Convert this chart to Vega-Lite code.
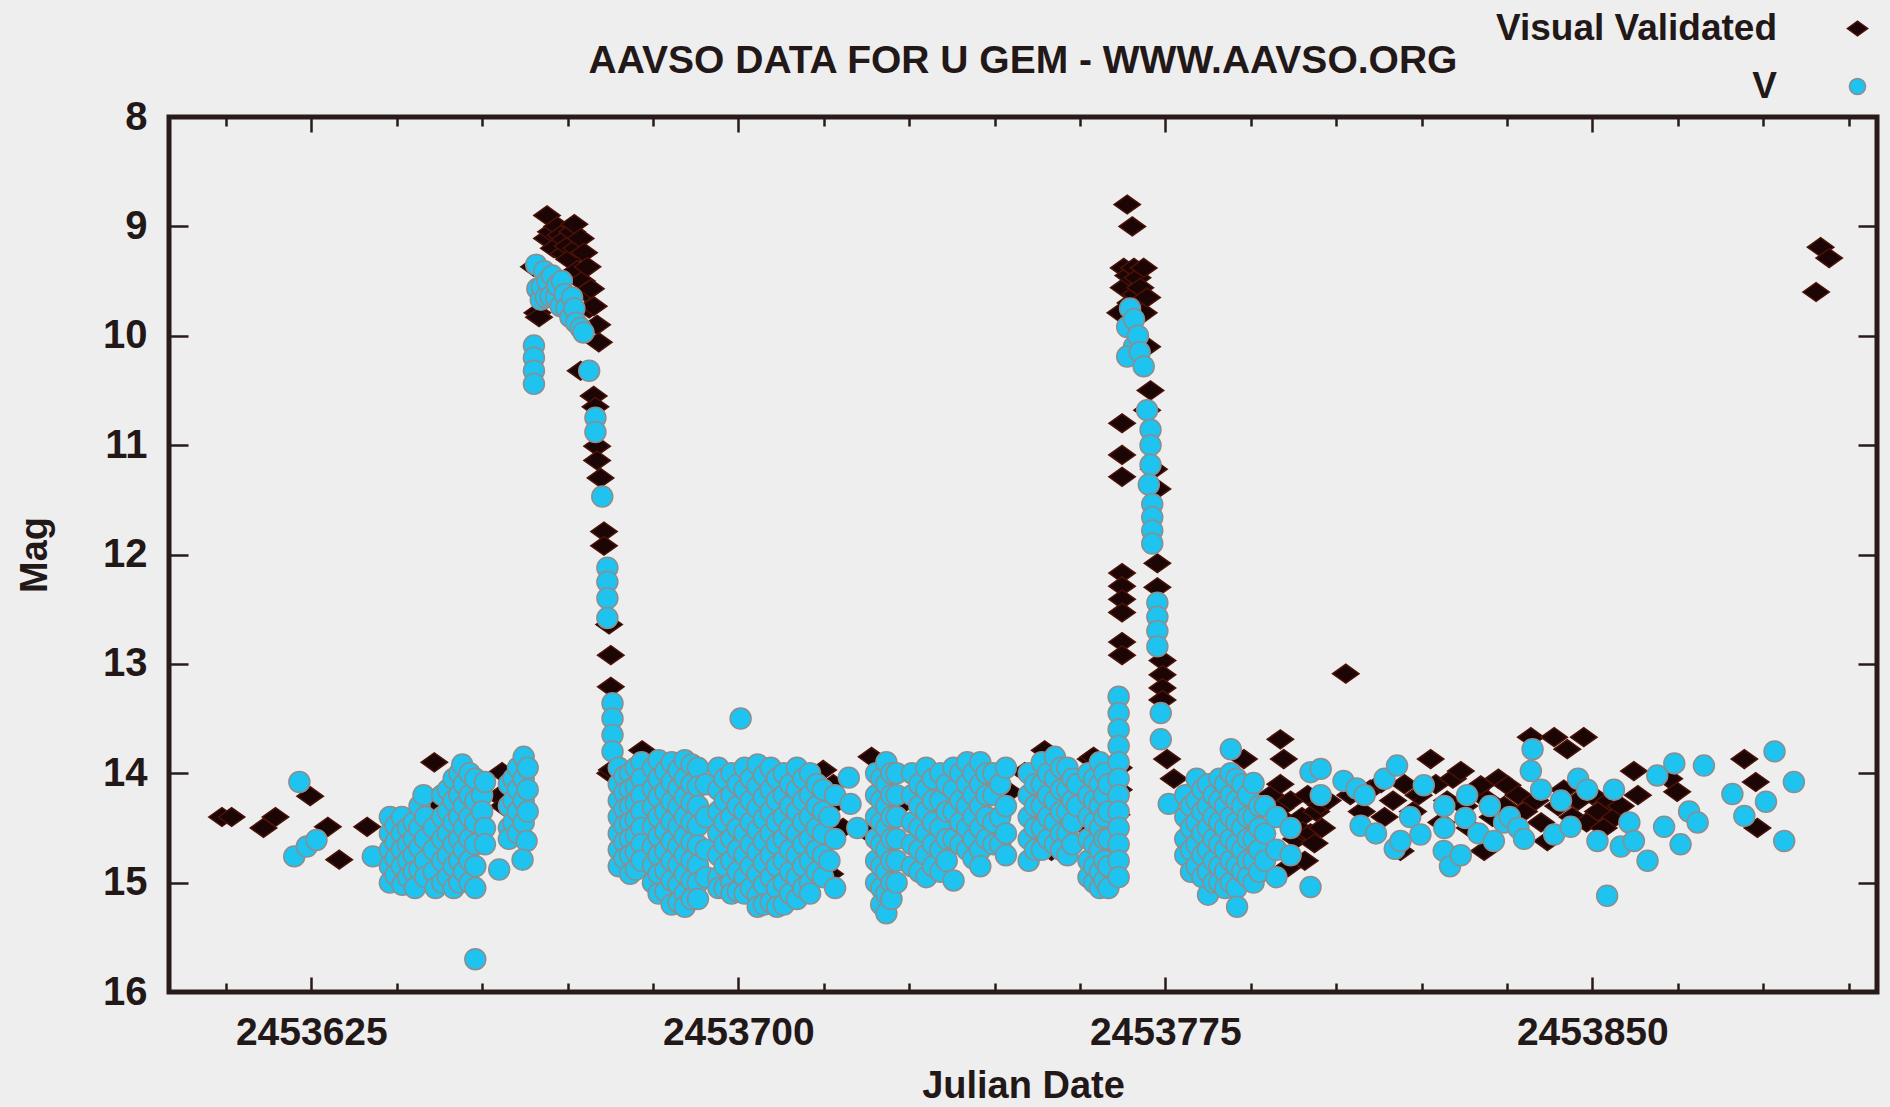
{
  "$schema": "https://vega.github.io/schema/vega-lite/v6.json",
  "width": 1708,
  "height": 875,
  "autosize": {"type": "none"},
  "padding": {"left": 169, "top": 117, "right": 13, "bottom": 115},
  "background": "#eeeeee",
  "config": {
    "view": {"stroke": "#2a1b1b", "strokeWidth": 5},
    "font": "Liberation Sans",
    "axis": {"grid": false, "domain": false, "labelFlush": false, "labelOverlap": false, "labelBound": false, "tickColor": "#2a1b1b", "tickWidth": 2.5, "labelColor": "#231818", "titleColor": "#231818", "labelFont": "Liberation Sans", "titleFont": "Liberation Sans", "labelFontWeight": "bold", "titleFontWeight": "bold"}
  },
  "title": {"text": "AAVSO DATA FOR U GEM - WWW.AAVSO.ORG", "font": "Liberation Sans", "fontSize": 39, "fontWeight": "bold", "color": "#231818", "anchor": "middle", "offset": 0, "dy": 71},
  "datasets": {
    "none": [],
    "pts": [
{"jd":2453609.3,"mag":14.40,"s":"Visual Validated"},
{"jd":2453611.0,"mag":14.40,"s":"Visual Validated"},
{"jd":2453616.6,"mag":14.50,"s":"Visual Validated"},
{"jd":2453618.7,"mag":14.40,"s":"Visual Validated"},
{"jd":2453624.8,"mag":14.21,"s":"Visual Validated"},
{"jd":2453627.9,"mag":14.49,"s":"Visual Validated"},
{"jd":2453629.9,"mag":14.79,"s":"Visual Validated"},
{"jd":2453634.8,"mag":14.49,"s":"Visual Validated"},
{"jd":2453645.9,"mag":14.31,"s":"Visual Validated"},
{"jd":2453646.6,"mag":13.90,"s":"Visual Validated"},
{"jd":2453647.9,"mag":14.18,"s":"Visual Validated"},
{"jd":2453652.7,"mag":14.31,"s":"Visual Validated"},
{"jd":2453658.5,"mag":13.99,"s":"Visual Validated"},
{"jd":2453658.0,"mag":14.21,"s":"Visual Validated"},
{"jd":2453658.8,"mag":14.30,"s":"Visual Validated"},
{"jd":2453664.1,"mag":9.37,"s":"Visual Validated"},
{"jd":2453664.7,"mag":9.79,"s":"Visual Validated"},
{"jd":2453665.0,"mag":9.83,"s":"Visual Validated"},
{"jd":2453666.4,"mag":8.90,"s":"Visual Validated"},
{"jd":2453666.4,"mag":9.11,"s":"Visual Validated"},
{"jd":2453667.1,"mag":9.05,"s":"Visual Validated"},
{"jd":2453667.6,"mag":9.20,"s":"Visual Validated"},
{"jd":2453668.2,"mag":9.00,"s":"Visual Validated"},
{"jd":2453668.8,"mag":9.08,"s":"Visual Validated"},
{"jd":2453669.3,"mag":9.25,"s":"Visual Validated"},
{"jd":2453669.5,"mag":9.12,"s":"Visual Validated"},
{"jd":2453670.0,"mag":9.18,"s":"Visual Validated"},
{"jd":2453670.3,"mag":9.30,"s":"Visual Validated"},
{"jd":2453670.8,"mag":9.05,"s":"Visual Validated"},
{"jd":2453671.2,"mag":8.98,"s":"Visual Validated"},
{"jd":2453671.5,"mag":9.20,"s":"Visual Validated"},
{"jd":2453671.7,"mag":9.40,"s":"Visual Validated"},
{"jd":2453672.3,"mag":9.11,"s":"Visual Validated"},
{"jd":2453672.5,"mag":9.50,"s":"Visual Validated"},
{"jd":2453672.9,"mag":9.24,"s":"Visual Validated"},
{"jd":2453673.2,"mag":9.60,"s":"Visual Validated"},
{"jd":2453673.5,"mag":9.37,"s":"Visual Validated"},
{"jd":2453673.8,"mag":9.75,"s":"Visual Validated"},
{"jd":2453674.1,"mag":9.57,"s":"Visual Validated"},
{"jd":2453674.6,"mag":9.73,"s":"Visual Validated"},
{"jd":2453675.2,"mag":9.90,"s":"Visual Validated"},
{"jd":2453675.5,"mag":10.06,"s":"Visual Validated"},
{"jd":2453672.3,"mag":10.32,"s":"Visual Validated"},
{"jd":2453674.6,"mag":10.55,"s":"Visual Validated"},
{"jd":2453674.9,"mag":10.65,"s":"Visual Validated"},
{"jd":2453675.2,"mag":11.01,"s":"Visual Validated"},
{"jd":2453675.2,"mag":11.14,"s":"Visual Validated"},
{"jd":2453675.8,"mag":11.30,"s":"Visual Validated"},
{"jd":2453676.4,"mag":11.79,"s":"Visual Validated"},
{"jd":2453676.4,"mag":11.92,"s":"Visual Validated"},
{"jd":2453677.3,"mag":12.64,"s":"Visual Validated"},
{"jd":2453677.6,"mag":12.92,"s":"Visual Validated"},
{"jd":2453677.6,"mag":13.21,"s":"Visual Validated"},
{"jd":2453677.5,"mag":14.00,"s":"Visual Validated"},
{"jd":2453677.8,"mag":13.97,"s":"Visual Validated"},
{"jd":2453683.1,"mag":13.79,"s":"Visual Validated"},
{"jd":2453684.7,"mag":14.10,"s":"Visual Validated"},
{"jd":2453684.7,"mag":14.30,"s":"Visual Validated"},
{"jd":2453698.6,"mag":14.14,"s":"Visual Validated"},
{"jd":2453709.9,"mag":14.44,"s":"Visual Validated"},
{"jd":2453714.9,"mag":13.97,"s":"Visual Validated"},
{"jd":2453716.7,"mag":14.10,"s":"Visual Validated"},
{"jd":2453716.1,"mag":14.31,"s":"Visual Validated"},
{"jd":2453716.1,"mag":14.47,"s":"Visual Validated"},
{"jd":2453716.1,"mag":14.92,"s":"Visual Validated"},
{"jd":2453718.4,"mag":14.50,"s":"Visual Validated"},
{"jd":2453722.5,"mag":14.53,"s":"Visual Validated"},
{"jd":2453723.4,"mag":13.85,"s":"Visual Validated"},
{"jd":2453728.6,"mag":14.29,"s":"Visual Validated"},
{"jd":2453731.6,"mag":14.20,"s":"Visual Validated"},
{"jd":2453735.1,"mag":14.30,"s":"Visual Validated"},
{"jd":2453736.9,"mag":14.08,"s":"Visual Validated"},
{"jd":2453739.5,"mag":14.20,"s":"Visual Validated"},
{"jd":2453747.6,"mag":14.17,"s":"Visual Validated"},
{"jd":2453750.3,"mag":13.99,"s":"Visual Validated"},
{"jd":2453753.8,"mag":13.79,"s":"Visual Validated"},
{"jd":2453755.0,"mag":14.71,"s":"Visual Validated"},
{"jd":2453755.3,"mag":14.30,"s":"Visual Validated"},
{"jd":2453760.2,"mag":14.15,"s":"Visual Validated"},
{"jd":2453760.5,"mag":14.47,"s":"Visual Validated"},
{"jd":2453761.9,"mag":13.87,"s":"Visual Validated"},
{"jd":2453762.4,"mag":13.85,"s":"Visual Validated"},
{"jd":2453763.5,"mag":14.20,"s":"Visual Validated"},
{"jd":2453766.4,"mag":14.38,"s":"Visual Validated"},
{"jd":2453766.8,"mag":13.95,"s":"Visual Validated"},
{"jd":2453766.8,"mag":14.15,"s":"Visual Validated"},
{"jd":2453767.1,"mag":9.79,"s":"Visual Validated"},
{"jd":2453767.4,"mag":10.80,"s":"Visual Validated"},
{"jd":2453767.4,"mag":11.09,"s":"Visual Validated"},
{"jd":2453767.4,"mag":11.29,"s":"Visual Validated"},
{"jd":2453767.4,"mag":12.17,"s":"Visual Validated"},
{"jd":2453767.4,"mag":12.29,"s":"Visual Validated"},
{"jd":2453767.4,"mag":12.41,"s":"Visual Validated"},
{"jd":2453767.4,"mag":12.53,"s":"Visual Validated"},
{"jd":2453767.4,"mag":12.80,"s":"Visual Validated"},
{"jd":2453767.4,"mag":12.92,"s":"Visual Validated"},
{"jd":2453767.7,"mag":9.38,"s":"Visual Validated"},
{"jd":2453767.7,"mag":9.56,"s":"Visual Validated"},
{"jd":2453768.3,"mag":8.80,"s":"Visual Validated"},
{"jd":2453768.5,"mag":9.45,"s":"Visual Validated"},
{"jd":2453768.9,"mag":9.70,"s":"Visual Validated"},
{"jd":2453769.2,"mag":9.00,"s":"Visual Validated"},
{"jd":2453769.5,"mag":9.38,"s":"Visual Validated"},
{"jd":2453769.8,"mag":9.62,"s":"Visual Validated"},
{"jd":2453770.1,"mag":9.47,"s":"Visual Validated"},
{"jd":2453770.6,"mag":9.56,"s":"Visual Validated"},
{"jd":2453771.2,"mag":9.38,"s":"Visual Validated"},
{"jd":2453771.2,"mag":9.79,"s":"Visual Validated"},
{"jd":2453771.8,"mag":9.65,"s":"Visual Validated"},
{"jd":2453771.8,"mag":10.10,"s":"Visual Validated"},
{"jd":2453772.4,"mag":10.50,"s":"Visual Validated"},
{"jd":2453771.8,"mag":10.68,"s":"Visual Validated"},
{"jd":2453773.0,"mag":11.22,"s":"Visual Validated"},
{"jd":2453773.6,"mag":11.40,"s":"Visual Validated"},
{"jd":2453773.6,"mag":12.08,"s":"Visual Validated"},
{"jd":2453773.6,"mag":12.30,"s":"Visual Validated"},
{"jd":2453774.5,"mag":12.97,"s":"Visual Validated"},
{"jd":2453774.5,"mag":13.10,"s":"Visual Validated"},
{"jd":2453774.5,"mag":13.22,"s":"Visual Validated"},
{"jd":2453774.5,"mag":13.33,"s":"Visual Validated"},
{"jd":2453775.3,"mag":13.87,"s":"Visual Validated"},
{"jd":2453776.5,"mag":14.05,"s":"Visual Validated"},
{"jd":2453785.3,"mag":14.10,"s":"Visual Validated"},
{"jd":2453788.8,"mag":13.87,"s":"Visual Validated"},
{"jd":2453790.6,"mag":14.30,"s":"Visual Validated"},
{"jd":2453791.0,"mag":14.95,"s":"Visual Validated"},
{"jd":2453792.0,"mag":14.55,"s":"Visual Validated"},
{"jd":2453793.5,"mag":14.20,"s":"Visual Validated"},
{"jd":2453794.0,"mag":14.70,"s":"Visual Validated"},
{"jd":2453795.2,"mag":13.69,"s":"Visual Validated"},
{"jd":2453795.8,"mag":13.87,"s":"Visual Validated"},
{"jd":2453795.2,"mag":14.10,"s":"Visual Validated"},
{"jd":2453795.2,"mag":14.32,"s":"Visual Validated"},
{"jd":2453796.5,"mag":14.45,"s":"Visual Validated"},
{"jd":2453796.5,"mag":14.86,"s":"Visual Validated"},
{"jd":2453797.0,"mag":14.25,"s":"Visual Validated"},
{"jd":2453798.0,"mag":14.60,"s":"Visual Validated"},
{"jd":2453799.0,"mag":14.40,"s":"Visual Validated"},
{"jd":2453799.1,"mag":14.53,"s":"Visual Validated"},
{"jd":2453799.5,"mag":14.80,"s":"Visual Validated"},
{"jd":2453800.0,"mag":14.20,"s":"Visual Validated"},
{"jd":2453800.5,"mag":14.55,"s":"Visual Validated"},
{"jd":2453801.2,"mag":14.64,"s":"Visual Validated"},
{"jd":2453801.5,"mag":14.35,"s":"Visual Validated"},
{"jd":2453802.3,"mag":14.29,"s":"Visual Validated"},
{"jd":2453802.5,"mag":14.50,"s":"Visual Validated"},
{"jd":2453803.5,"mag":14.25,"s":"Visual Validated"},
{"jd":2453806.7,"mag":13.09,"s":"Visual Validated"},
{"jd":2453807.5,"mag":14.20,"s":"Visual Validated"},
{"jd":2453809.5,"mag":14.35,"s":"Visual Validated"},
{"jd":2453811.0,"mag":14.15,"s":"Visual Validated"},
{"jd":2453812.9,"mag":14.09,"s":"Visual Validated"},
{"jd":2453813.5,"mag":14.40,"s":"Visual Validated"},
{"jd":2453815.0,"mag":14.25,"s":"Visual Validated"},
{"jd":2453816.3,"mag":14.71,"s":"Visual Validated"},
{"jd":2453817.0,"mag":14.10,"s":"Visual Validated"},
{"jd":2453818.5,"mag":14.35,"s":"Visual Validated"},
{"jd":2453819.5,"mag":14.20,"s":"Visual Validated"},
{"jd":2453821.6,"mag":13.87,"s":"Visual Validated"},
{"jd":2453822.5,"mag":14.10,"s":"Visual Validated"},
{"jd":2453823.5,"mag":14.45,"s":"Visual Validated"},
{"jd":2453824.5,"mag":14.25,"s":"Visual Validated"},
{"jd":2453825.5,"mag":14.05,"s":"Visual Validated"},
{"jd":2453826.9,"mag":13.98,"s":"Visual Validated"},
{"jd":2453827.5,"mag":14.30,"s":"Visual Validated"},
{"jd":2453828.5,"mag":14.50,"s":"Visual Validated"},
{"jd":2453829.5,"mag":14.15,"s":"Visual Validated"},
{"jd":2453830.4,"mag":14.11,"s":"Visual Validated"},
{"jd":2453831.0,"mag":14.71,"s":"Visual Validated"},
{"jd":2453831.5,"mag":14.24,"s":"Visual Validated"},
{"jd":2453832.5,"mag":14.40,"s":"Visual Validated"},
{"jd":2453833.5,"mag":14.05,"s":"Visual Validated"},
{"jd":2453834.5,"mag":14.30,"s":"Visual Validated"},
{"jd":2453835.1,"mag":14.11,"s":"Visual Validated"},
{"jd":2453836.0,"mag":14.45,"s":"Visual Validated"},
{"jd":2453837.0,"mag":14.20,"s":"Visual Validated"},
{"jd":2453838.0,"mag":14.35,"s":"Visual Validated"},
{"jd":2453839.2,"mag":13.67,"s":"Visual Validated"},
{"jd":2453840.0,"mag":14.25,"s":"Visual Validated"},
{"jd":2453841.0,"mag":14.45,"s":"Visual Validated"},
{"jd":2453842.1,"mag":14.62,"s":"Visual Validated"},
{"jd":2453843.3,"mag":13.67,"s":"Visual Validated"},
{"jd":2453844.0,"mag":14.30,"s":"Visual Validated"},
{"jd":2453845.0,"mag":14.15,"s":"Visual Validated"},
{"jd":2453845.6,"mag":13.78,"s":"Visual Validated"},
{"jd":2453846.5,"mag":14.40,"s":"Visual Validated"},
{"jd":2453847.5,"mag":14.25,"s":"Visual Validated"},
{"jd":2453848.5,"mag":13.67,"s":"Visual Validated"},
{"jd":2453849.0,"mag":14.45,"s":"Visual Validated"},
{"jd":2453850.0,"mag":14.20,"s":"Visual Validated"},
{"jd":2453851.0,"mag":14.35,"s":"Visual Validated"},
{"jd":2453852.0,"mag":14.50,"s":"Visual Validated"},
{"jd":2453853.0,"mag":14.25,"s":"Visual Validated"},
{"jd":2453854.0,"mag":14.40,"s":"Visual Validated"},
{"jd":2453855.0,"mag":14.30,"s":"Visual Validated"},
{"jd":2453857.3,"mag":13.98,"s":"Visual Validated"},
{"jd":2453858.0,"mag":14.20,"s":"Visual Validated"},
{"jd":2453863.5,"mag":14.05,"s":"Visual Validated"},
{"jd":2453864.9,"mag":14.17,"s":"Visual Validated"},
{"jd":2453876.7,"mag":13.87,"s":"Visual Validated"},
{"jd":2453878.7,"mag":14.08,"s":"Visual Validated"},
{"jd":2453879.0,"mag":14.50,"s":"Visual Validated"},
{"jd":2453889.3,"mag":9.60,"s":"Visual Validated"},
{"jd":2453890.1,"mag":9.19,"s":"Visual Validated"},
{"jd":2453891.6,"mag":9.29,"s":"Visual Validated"},
{"jd":2453622.0,"mag":14.76,"s":"V"},
{"jd":2453622.9,"mag":14.08,"s":"V"},
{"jd":2453624.2,"mag":14.67,"s":"V"},
{"jd":2453625.9,"mag":14.61,"s":"V"},
{"jd":2453635.8,"mag":14.76,"s":"V"},
{"jd":2453638.8,"mag":14.40,"s":"V"},
{"jd":2453638.8,"mag":14.55,"s":"V"},
{"jd":2453638.8,"mag":14.70,"s":"V"},
{"jd":2453638.8,"mag":14.85,"s":"V"},
{"jd":2453638.8,"mag":15.00,"s":"V"},
{"jd":2453639.8,"mag":14.48,"s":"V"},
{"jd":2453639.8,"mag":14.63,"s":"V"},
{"jd":2453639.8,"mag":14.78,"s":"V"},
{"jd":2453639.8,"mag":14.93,"s":"V"},
{"jd":2453640.9,"mag":14.40,"s":"V"},
{"jd":2453640.9,"mag":14.55,"s":"V"},
{"jd":2453640.9,"mag":14.70,"s":"V"},
{"jd":2453640.9,"mag":14.85,"s":"V"},
{"jd":2453641.0,"mag":15.02,"s":"V"},
{"jd":2453642.0,"mag":14.50,"s":"V"},
{"jd":2453642.0,"mag":14.65,"s":"V"},
{"jd":2453642.0,"mag":14.80,"s":"V"},
{"jd":2453642.0,"mag":14.95,"s":"V"},
{"jd":2453643.0,"mag":14.45,"s":"V"},
{"jd":2453643.0,"mag":14.60,"s":"V"},
{"jd":2453643.0,"mag":14.75,"s":"V"},
{"jd":2453643.0,"mag":14.90,"s":"V"},
{"jd":2453643.2,"mag":15.05,"s":"V"},
{"jd":2453644.0,"mag":14.30,"s":"V"},
{"jd":2453644.0,"mag":14.50,"s":"V"},
{"jd":2453644.0,"mag":14.68,"s":"V"},
{"jd":2453644.0,"mag":14.88,"s":"V"},
{"jd":2453644.7,"mag":14.20,"s":"V"},
{"jd":2453645.0,"mag":14.40,"s":"V"},
{"jd":2453645.0,"mag":14.60,"s":"V"},
{"jd":2453645.0,"mag":14.80,"s":"V"},
{"jd":2453645.0,"mag":14.95,"s":"V"},
{"jd":2453646.5,"mag":14.50,"s":"V"},
{"jd":2453646.5,"mag":14.70,"s":"V"},
{"jd":2453646.5,"mag":14.90,"s":"V"},
{"jd":2453646.8,"mag":15.05,"s":"V"},
{"jd":2453648.0,"mag":14.20,"s":"V"},
{"jd":2453648.0,"mag":14.40,"s":"V"},
{"jd":2453648.0,"mag":14.60,"s":"V"},
{"jd":2453648.0,"mag":14.80,"s":"V"},
{"jd":2453648.0,"mag":15.00,"s":"V"},
{"jd":2453649.0,"mag":14.15,"s":"V"},
{"jd":2453649.0,"mag":14.35,"s":"V"},
{"jd":2453649.0,"mag":14.55,"s":"V"},
{"jd":2453649.0,"mag":14.75,"s":"V"},
{"jd":2453649.0,"mag":14.95,"s":"V"},
{"jd":2453650.0,"mag":14.05,"s":"V"},
{"jd":2453650.0,"mag":14.25,"s":"V"},
{"jd":2453650.0,"mag":14.45,"s":"V"},
{"jd":2453650.0,"mag":14.65,"s":"V"},
{"jd":2453650.0,"mag":14.85,"s":"V"},
{"jd":2453650.0,"mag":15.05,"s":"V"},
{"jd":2453651.0,"mag":14.00,"s":"V"},
{"jd":2453651.0,"mag":14.20,"s":"V"},
{"jd":2453651.0,"mag":14.40,"s":"V"},
{"jd":2453651.0,"mag":14.60,"s":"V"},
{"jd":2453651.0,"mag":14.80,"s":"V"},
{"jd":2453651.0,"mag":15.00,"s":"V"},
{"jd":2453651.5,"mag":13.92,"s":"V"},
{"jd":2453651.8,"mag":14.10,"s":"V"},
{"jd":2453651.8,"mag":14.30,"s":"V"},
{"jd":2453651.8,"mag":14.50,"s":"V"},
{"jd":2453651.8,"mag":14.70,"s":"V"},
{"jd":2453651.8,"mag":14.90,"s":"V"},
{"jd":2453652.8,"mag":14.00,"s":"V"},
{"jd":2453652.8,"mag":14.20,"s":"V"},
{"jd":2453652.8,"mag":14.40,"s":"V"},
{"jd":2453652.8,"mag":14.60,"s":"V"},
{"jd":2453652.8,"mag":14.80,"s":"V"},
{"jd":2453652.8,"mag":15.00,"s":"V"},
{"jd":2453653.8,"mag":14.05,"s":"V"},
{"jd":2453653.8,"mag":14.25,"s":"V"},
{"jd":2453653.8,"mag":14.45,"s":"V"},
{"jd":2453653.8,"mag":14.65,"s":"V"},
{"jd":2453653.8,"mag":14.85,"s":"V"},
{"jd":2453653.8,"mag":15.05,"s":"V"},
{"jd":2453653.8,"mag":15.70,"s":"V"},
{"jd":2453655.0,"mag":14.20,"s":"V"},
{"jd":2453655.0,"mag":14.35,"s":"V"},
{"jd":2453655.5,"mag":14.08,"s":"V"},
{"jd":2453655.5,"mag":14.50,"s":"V"},
{"jd":2453655.5,"mag":14.65,"s":"V"},
{"jd":2453658.0,"mag":14.88,"s":"V"},
{"jd":2453659.7,"mag":14.10,"s":"V"},
{"jd":2453659.7,"mag":14.30,"s":"V"},
{"jd":2453659.7,"mag":14.50,"s":"V"},
{"jd":2453659.7,"mag":14.60,"s":"V"},
{"jd":2453660.5,"mag":14.05,"s":"V"},
{"jd":2453660.5,"mag":14.25,"s":"V"},
{"jd":2453660.5,"mag":14.45,"s":"V"},
{"jd":2453661.3,"mag":13.95,"s":"V"},
{"jd":2453661.3,"mag":14.15,"s":"V"},
{"jd":2453661.3,"mag":14.35,"s":"V"},
{"jd":2453661.3,"mag":14.55,"s":"V"},
{"jd":2453662.3,"mag":13.85,"s":"V"},
{"jd":2453662.3,"mag":14.05,"s":"V"},
{"jd":2453662.3,"mag":14.25,"s":"V"},
{"jd":2453662.3,"mag":14.45,"s":"V"},
{"jd":2453662.8,"mag":14.62,"s":"V"},
{"jd":2453662.1,"mag":14.79,"s":"V"},
{"jd":2453663.0,"mag":13.95,"s":"V"},
{"jd":2453663.0,"mag":14.15,"s":"V"},
{"jd":2453663.0,"mag":14.35,"s":"V"},
{"jd":2453664.1,"mag":10.09,"s":"V"},
{"jd":2453664.1,"mag":10.20,"s":"V"},
{"jd":2453664.1,"mag":10.32,"s":"V"},
{"jd":2453664.1,"mag":10.44,"s":"V"},
{"jd":2453664.5,"mag":9.35,"s":"V"},
{"jd":2453664.7,"mag":9.57,"s":"V"},
{"jd":2453665.3,"mag":9.67,"s":"V"},
{"jd":2453665.5,"mag":9.55,"s":"V"},
{"jd":2453665.9,"mag":9.41,"s":"V"},
{"jd":2453666.2,"mag":9.65,"s":"V"},
{"jd":2453666.5,"mag":9.50,"s":"V"},
{"jd":2453667.0,"mag":9.64,"s":"V"},
{"jd":2453667.3,"mag":9.45,"s":"V"},
{"jd":2453668.0,"mag":9.65,"s":"V"},
{"jd":2453668.2,"mag":9.54,"s":"V"},
{"jd":2453668.8,"mag":9.73,"s":"V"},
{"jd":2453669.0,"mag":9.50,"s":"V"},
{"jd":2453669.5,"mag":9.62,"s":"V"},
{"jd":2453669.8,"mag":9.75,"s":"V"},
{"jd":2453670.5,"mag":9.83,"s":"V"},
{"jd":2453670.8,"mag":9.65,"s":"V"},
{"jd":2453671.2,"mag":9.75,"s":"V"},
{"jd":2453671.5,"mag":9.88,"s":"V"},
{"jd":2453672.3,"mag":9.93,"s":"V"},
{"jd":2453672.8,"mag":9.97,"s":"V"},
{"jd":2453673.8,"mag":10.32,"s":"V"},
{"jd":2453674.9,"mag":10.75,"s":"V"},
{"jd":2453674.9,"mag":10.88,"s":"V"},
{"jd":2453676.1,"mag":11.47,"s":"V"},
{"jd":2453677.0,"mag":12.12,"s":"V"},
{"jd":2453677.0,"mag":12.25,"s":"V"},
{"jd":2453677.0,"mag":12.40,"s":"V"},
{"jd":2453677.0,"mag":12.58,"s":"V"},
{"jd":2453677.9,"mag":13.36,"s":"V"},
{"jd":2453677.9,"mag":13.50,"s":"V"},
{"jd":2453677.9,"mag":13.65,"s":"V"},
{"jd":2453677.9,"mag":13.80,"s":"V"},
{"jd":2453679.0,"mag":13.95,"s":"V"},
{"jd":2453679.0,"mag":14.10,"s":"V"},
{"jd":2453679.0,"mag":14.25,"s":"V"},
{"jd":2453679.0,"mag":14.40,"s":"V"},
{"jd":2453679.0,"mag":14.55,"s":"V"},
{"jd":2453679.0,"mag":14.70,"s":"V"},
{"jd":2453679.0,"mag":14.85,"s":"V"},
{"jd":2453680.0,"mag":14.03,"s":"V"},
{"jd":2453680.0,"mag":14.18,"s":"V"},
{"jd":2453680.0,"mag":14.33,"s":"V"},
{"jd":2453680.0,"mag":14.48,"s":"V"},
{"jd":2453680.0,"mag":14.63,"s":"V"},
{"jd":2453680.0,"mag":14.78,"s":"V"},
{"jd":2453681.0,"mag":14.00,"s":"V"},
{"jd":2453681.0,"mag":14.15,"s":"V"},
{"jd":2453681.0,"mag":14.30,"s":"V"},
{"jd":2453681.0,"mag":14.45,"s":"V"},
{"jd":2453681.0,"mag":14.60,"s":"V"},
{"jd":2453681.0,"mag":14.75,"s":"V"},
{"jd":2453681.0,"mag":14.92,"s":"V"},
{"jd":2453682.0,"mag":13.95,"s":"V"},
{"jd":2453682.0,"mag":14.12,"s":"V"},
{"jd":2453682.0,"mag":14.27,"s":"V"},
{"jd":2453682.0,"mag":14.42,"s":"V"},
{"jd":2453682.0,"mag":14.57,"s":"V"},
{"jd":2453682.0,"mag":14.72,"s":"V"},
{"jd":2453682.0,"mag":14.88,"s":"V"},
{"jd":2453683.0,"mag":13.90,"s":"V"},
{"jd":2453683.0,"mag":14.05,"s":"V"},
{"jd":2453683.0,"mag":14.20,"s":"V"},
{"jd":2453683.0,"mag":14.35,"s":"V"},
{"jd":2453683.0,"mag":14.50,"s":"V"},
{"jd":2453683.0,"mag":14.65,"s":"V"},
{"jd":2453683.0,"mag":14.80,"s":"V"},
{"jd":2453685.0,"mag":13.95,"s":"V"},
{"jd":2453685.0,"mag":14.14,"s":"V"},
{"jd":2453685.0,"mag":14.31,"s":"V"},
{"jd":2453685.0,"mag":14.49,"s":"V"},
{"jd":2453685.0,"mag":14.67,"s":"V"},
{"jd":2453685.0,"mag":14.84,"s":"V"},
{"jd":2453685.0,"mag":15.00,"s":"V"},
{"jd":2453686.0,"mag":13.88,"s":"V"},
{"jd":2453686.0,"mag":14.05,"s":"V"},
{"jd":2453686.0,"mag":14.22,"s":"V"},
{"jd":2453686.0,"mag":14.40,"s":"V"},
{"jd":2453686.0,"mag":14.58,"s":"V"},
{"jd":2453686.0,"mag":14.75,"s":"V"},
{"jd":2453686.0,"mag":14.92,"s":"V"},
{"jd":2453686.0,"mag":15.10,"s":"V"},
{"jd":2453687.2,"mag":13.98,"s":"V"},
{"jd":2453687.2,"mag":14.17,"s":"V"},
{"jd":2453687.2,"mag":14.35,"s":"V"},
{"jd":2453687.2,"mag":14.53,"s":"V"},
{"jd":2453687.2,"mag":14.71,"s":"V"},
{"jd":2453687.2,"mag":14.89,"s":"V"},
{"jd":2453687.2,"mag":15.08,"s":"V"},
{"jd":2453688.3,"mag":13.90,"s":"V"},
{"jd":2453688.3,"mag":14.08,"s":"V"},
{"jd":2453688.3,"mag":14.26,"s":"V"},
{"jd":2453688.3,"mag":14.44,"s":"V"},
{"jd":2453688.3,"mag":14.62,"s":"V"},
{"jd":2453688.3,"mag":14.80,"s":"V"},
{"jd":2453688.3,"mag":14.98,"s":"V"},
{"jd":2453688.3,"mag":15.20,"s":"V"},
{"jd":2453689.5,"mag":13.97,"s":"V"},
{"jd":2453689.5,"mag":14.14,"s":"V"},
{"jd":2453689.5,"mag":14.31,"s":"V"},
{"jd":2453689.5,"mag":14.49,"s":"V"},
{"jd":2453689.5,"mag":14.67,"s":"V"},
{"jd":2453689.5,"mag":14.84,"s":"V"},
{"jd":2453689.5,"mag":15.02,"s":"V"},
{"jd":2453689.5,"mag":15.18,"s":"V"},
{"jd":2453690.6,"mag":13.88,"s":"V"},
{"jd":2453690.6,"mag":14.05,"s":"V"},
{"jd":2453690.6,"mag":14.22,"s":"V"},
{"jd":2453690.6,"mag":14.40,"s":"V"},
{"jd":2453690.6,"mag":14.58,"s":"V"},
{"jd":2453690.6,"mag":14.75,"s":"V"},
{"jd":2453690.6,"mag":14.92,"s":"V"},
{"jd":2453690.6,"mag":15.10,"s":"V"},
{"jd":2453690.6,"mag":15.22,"s":"V"},
{"jd":2453691.8,"mag":13.92,"s":"V"},
{"jd":2453691.8,"mag":14.10,"s":"V"},
{"jd":2453691.8,"mag":14.27,"s":"V"},
{"jd":2453691.8,"mag":14.45,"s":"V"},
{"jd":2453691.8,"mag":14.63,"s":"V"},
{"jd":2453691.8,"mag":14.80,"s":"V"},
{"jd":2453691.8,"mag":14.98,"s":"V"},
{"jd":2453691.8,"mag":15.15,"s":"V"},
{"jd":2453692.9,"mag":13.95,"s":"V"},
{"jd":2453692.9,"mag":14.12,"s":"V"},
{"jd":2453692.9,"mag":14.30,"s":"V"},
{"jd":2453692.9,"mag":14.48,"s":"V"},
{"jd":2453692.9,"mag":14.66,"s":"V"},
{"jd":2453692.9,"mag":14.84,"s":"V"},
{"jd":2453692.9,"mag":15.00,"s":"V"},
{"jd":2453692.9,"mag":15.15,"s":"V"},
{"jd":2453694.3,"mag":14.10,"s":"V"},
{"jd":2453694.3,"mag":14.40,"s":"V"},
{"jd":2453694.3,"mag":14.70,"s":"V"},
{"jd":2453694.3,"mag":14.95,"s":"V"},
{"jd":2453700.4,"mag":13.50,"s":"V"},
{"jd":2453696.5,"mag":13.95,"s":"V"},
{"jd":2453696.5,"mag":14.15,"s":"V"},
{"jd":2453696.5,"mag":14.35,"s":"V"},
{"jd":2453696.5,"mag":14.55,"s":"V"},
{"jd":2453696.5,"mag":14.75,"s":"V"},
{"jd":2453696.5,"mag":14.95,"s":"V"},
{"jd":2453696.5,"mag":15.05,"s":"V"},
{"jd":2453697.6,"mag":14.05,"s":"V"},
{"jd":2453697.6,"mag":14.25,"s":"V"},
{"jd":2453697.6,"mag":14.45,"s":"V"},
{"jd":2453697.6,"mag":14.65,"s":"V"},
{"jd":2453697.6,"mag":14.85,"s":"V"},
{"jd":2453697.6,"mag":15.05,"s":"V"},
{"jd":2453698.8,"mag":14.00,"s":"V"},
{"jd":2453698.8,"mag":14.20,"s":"V"},
{"jd":2453698.8,"mag":14.40,"s":"V"},
{"jd":2453698.8,"mag":14.60,"s":"V"},
{"jd":2453698.8,"mag":14.80,"s":"V"},
{"jd":2453698.8,"mag":15.00,"s":"V"},
{"jd":2453698.8,"mag":15.10,"s":"V"},
{"jd":2453699.9,"mag":14.10,"s":"V"},
{"jd":2453699.9,"mag":14.30,"s":"V"},
{"jd":2453699.9,"mag":14.50,"s":"V"},
{"jd":2453699.9,"mag":14.70,"s":"V"},
{"jd":2453699.9,"mag":14.90,"s":"V"},
{"jd":2453699.9,"mag":15.08,"s":"V"},
{"jd":2453701.1,"mag":13.95,"s":"V"},
{"jd":2453701.1,"mag":14.15,"s":"V"},
{"jd":2453701.1,"mag":14.35,"s":"V"},
{"jd":2453701.1,"mag":14.55,"s":"V"},
{"jd":2453701.1,"mag":14.75,"s":"V"},
{"jd":2453701.1,"mag":14.95,"s":"V"},
{"jd":2453701.1,"mag":15.10,"s":"V"},
{"jd":2453702.2,"mag":14.05,"s":"V"},
{"jd":2453702.2,"mag":14.25,"s":"V"},
{"jd":2453702.2,"mag":14.45,"s":"V"},
{"jd":2453702.2,"mag":14.65,"s":"V"},
{"jd":2453702.2,"mag":14.85,"s":"V"},
{"jd":2453702.2,"mag":15.05,"s":"V"},
{"jd":2453703.4,"mag":13.92,"s":"V"},
{"jd":2453703.4,"mag":14.12,"s":"V"},
{"jd":2453703.4,"mag":14.32,"s":"V"},
{"jd":2453703.4,"mag":14.52,"s":"V"},
{"jd":2453703.4,"mag":14.72,"s":"V"},
{"jd":2453703.4,"mag":14.92,"s":"V"},
{"jd":2453703.4,"mag":15.12,"s":"V"},
{"jd":2453703.4,"mag":15.22,"s":"V"},
{"jd":2453704.5,"mag":14.02,"s":"V"},
{"jd":2453704.5,"mag":14.22,"s":"V"},
{"jd":2453704.5,"mag":14.42,"s":"V"},
{"jd":2453704.5,"mag":14.62,"s":"V"},
{"jd":2453704.5,"mag":14.82,"s":"V"},
{"jd":2453704.5,"mag":15.02,"s":"V"},
{"jd":2453704.5,"mag":15.20,"s":"V"},
{"jd":2453705.7,"mag":13.95,"s":"V"},
{"jd":2453705.7,"mag":14.15,"s":"V"},
{"jd":2453705.7,"mag":14.35,"s":"V"},
{"jd":2453705.7,"mag":14.55,"s":"V"},
{"jd":2453705.7,"mag":14.75,"s":"V"},
{"jd":2453705.7,"mag":14.95,"s":"V"},
{"jd":2453705.7,"mag":15.18,"s":"V"},
{"jd":2453706.8,"mag":14.05,"s":"V"},
{"jd":2453706.8,"mag":14.25,"s":"V"},
{"jd":2453706.8,"mag":14.45,"s":"V"},
{"jd":2453706.8,"mag":14.65,"s":"V"},
{"jd":2453706.8,"mag":14.85,"s":"V"},
{"jd":2453706.8,"mag":15.05,"s":"V"},
{"jd":2453706.8,"mag":15.22,"s":"V"},
{"jd":2453708.0,"mag":14.00,"s":"V"},
{"jd":2453708.0,"mag":14.20,"s":"V"},
{"jd":2453708.0,"mag":14.40,"s":"V"},
{"jd":2453708.0,"mag":14.60,"s":"V"},
{"jd":2453708.0,"mag":14.80,"s":"V"},
{"jd":2453708.0,"mag":15.00,"s":"V"},
{"jd":2453708.0,"mag":15.20,"s":"V"},
{"jd":2453709.1,"mag":14.10,"s":"V"},
{"jd":2453709.1,"mag":14.30,"s":"V"},
{"jd":2453709.1,"mag":14.50,"s":"V"},
{"jd":2453709.1,"mag":14.70,"s":"V"},
{"jd":2453709.1,"mag":14.90,"s":"V"},
{"jd":2453709.1,"mag":15.10,"s":"V"},
{"jd":2453710.3,"mag":13.95,"s":"V"},
{"jd":2453710.3,"mag":14.15,"s":"V"},
{"jd":2453710.3,"mag":14.35,"s":"V"},
{"jd":2453710.3,"mag":14.55,"s":"V"},
{"jd":2453710.3,"mag":14.75,"s":"V"},
{"jd":2453710.3,"mag":14.95,"s":"V"},
{"jd":2453710.3,"mag":15.15,"s":"V"},
{"jd":2453711.4,"mag":14.05,"s":"V"},
{"jd":2453711.4,"mag":14.25,"s":"V"},
{"jd":2453711.4,"mag":14.45,"s":"V"},
{"jd":2453711.4,"mag":14.65,"s":"V"},
{"jd":2453711.4,"mag":14.85,"s":"V"},
{"jd":2453711.4,"mag":15.05,"s":"V"},
{"jd":2453712.6,"mag":14.00,"s":"V"},
{"jd":2453712.6,"mag":14.20,"s":"V"},
{"jd":2453712.6,"mag":14.40,"s":"V"},
{"jd":2453712.6,"mag":14.60,"s":"V"},
{"jd":2453712.6,"mag":14.80,"s":"V"},
{"jd":2453712.6,"mag":15.00,"s":"V"},
{"jd":2453712.6,"mag":15.10,"s":"V"},
{"jd":2453713.8,"mag":14.10,"s":"V"},
{"jd":2453713.8,"mag":14.30,"s":"V"},
{"jd":2453713.8,"mag":14.50,"s":"V"},
{"jd":2453713.8,"mag":14.70,"s":"V"},
{"jd":2453713.8,"mag":14.90,"s":"V"},
{"jd":2453714.9,"mag":14.15,"s":"V"},
{"jd":2453714.9,"mag":14.35,"s":"V"},
{"jd":2453714.9,"mag":14.55,"s":"V"},
{"jd":2453714.9,"mag":14.75,"s":"V"},
{"jd":2453714.9,"mag":14.95,"s":"V"},
{"jd":2453716.0,"mag":14.40,"s":"V"},
{"jd":2453716.0,"mag":14.80,"s":"V"},
{"jd":2453717.0,"mag":14.20,"s":"V"},
{"jd":2453717.0,"mag":14.60,"s":"V"},
{"jd":2453717.0,"mag":15.05,"s":"V"},
{"jd":2453719.4,"mag":14.04,"s":"V"},
{"jd":2453719.7,"mag":14.28,"s":"V"},
{"jd":2453720.9,"mag":14.50,"s":"V"},
{"jd":2453724.2,"mag":14.00,"s":"V"},
{"jd":2453724.2,"mag":14.20,"s":"V"},
{"jd":2453724.2,"mag":14.40,"s":"V"},
{"jd":2453724.2,"mag":14.60,"s":"V"},
{"jd":2453724.2,"mag":14.80,"s":"V"},
{"jd":2453724.2,"mag":15.00,"s":"V"},
{"jd":2453725.1,"mag":14.05,"s":"V"},
{"jd":2453725.1,"mag":14.25,"s":"V"},
{"jd":2453725.1,"mag":14.45,"s":"V"},
{"jd":2453725.1,"mag":14.65,"s":"V"},
{"jd":2453725.1,"mag":14.85,"s":"V"},
{"jd":2453725.1,"mag":15.05,"s":"V"},
{"jd":2453725.1,"mag":15.20,"s":"V"},
{"jd":2453726.0,"mag":13.90,"s":"V"},
{"jd":2453726.0,"mag":14.10,"s":"V"},
{"jd":2453726.0,"mag":14.30,"s":"V"},
{"jd":2453726.0,"mag":14.50,"s":"V"},
{"jd":2453726.0,"mag":14.70,"s":"V"},
{"jd":2453726.0,"mag":14.90,"s":"V"},
{"jd":2453726.0,"mag":15.10,"s":"V"},
{"jd":2453726.0,"mag":15.28,"s":"V"},
{"jd":2453726.9,"mag":14.00,"s":"V"},
{"jd":2453726.9,"mag":14.20,"s":"V"},
{"jd":2453726.9,"mag":14.40,"s":"V"},
{"jd":2453726.9,"mag":14.60,"s":"V"},
{"jd":2453726.9,"mag":14.80,"s":"V"},
{"jd":2453726.9,"mag":15.00,"s":"V"},
{"jd":2453726.9,"mag":15.15,"s":"V"},
{"jd":2453727.8,"mag":14.00,"s":"V"},
{"jd":2453727.8,"mag":14.20,"s":"V"},
{"jd":2453727.8,"mag":14.40,"s":"V"},
{"jd":2453727.8,"mag":14.60,"s":"V"},
{"jd":2453727.8,"mag":14.80,"s":"V"},
{"jd":2453727.8,"mag":15.00,"s":"V"},
{"jd":2453730.5,"mag":14.00,"s":"V"},
{"jd":2453730.5,"mag":14.20,"s":"V"},
{"jd":2453730.5,"mag":14.45,"s":"V"},
{"jd":2453730.5,"mag":14.65,"s":"V"},
{"jd":2453730.5,"mag":14.85,"s":"V"},
{"jd":2453731.8,"mag":14.10,"s":"V"},
{"jd":2453731.8,"mag":14.30,"s":"V"},
{"jd":2453731.8,"mag":14.50,"s":"V"},
{"jd":2453731.8,"mag":14.70,"s":"V"},
{"jd":2453731.8,"mag":14.90,"s":"V"},
{"jd":2453733.0,"mag":13.95,"s":"V"},
{"jd":2453733.0,"mag":14.15,"s":"V"},
{"jd":2453733.0,"mag":14.35,"s":"V"},
{"jd":2453733.0,"mag":14.55,"s":"V"},
{"jd":2453733.0,"mag":14.75,"s":"V"},
{"jd":2453733.0,"mag":14.95,"s":"V"},
{"jd":2453734.2,"mag":14.05,"s":"V"},
{"jd":2453734.2,"mag":14.25,"s":"V"},
{"jd":2453734.2,"mag":14.45,"s":"V"},
{"jd":2453734.2,"mag":14.65,"s":"V"},
{"jd":2453734.2,"mag":14.85,"s":"V"},
{"jd":2453735.5,"mag":14.00,"s":"V"},
{"jd":2453735.5,"mag":14.25,"s":"V"},
{"jd":2453735.5,"mag":14.50,"s":"V"},
{"jd":2453735.5,"mag":14.70,"s":"V"},
{"jd":2453735.5,"mag":14.90,"s":"V"},
{"jd":2453736.6,"mag":14.10,"s":"V"},
{"jd":2453736.6,"mag":14.35,"s":"V"},
{"jd":2453736.6,"mag":14.60,"s":"V"},
{"jd":2453736.6,"mag":14.80,"s":"V"},
{"jd":2453737.8,"mag":13.95,"s":"V"},
{"jd":2453737.8,"mag":14.15,"s":"V"},
{"jd":2453737.8,"mag":14.35,"s":"V"},
{"jd":2453737.8,"mag":14.60,"s":"V"},
{"jd":2453737.8,"mag":14.98,"s":"V"},
{"jd":2453739.0,"mag":14.00,"s":"V"},
{"jd":2453739.0,"mag":14.25,"s":"V"},
{"jd":2453739.0,"mag":14.45,"s":"V"},
{"jd":2453739.0,"mag":14.65,"s":"V"},
{"jd":2453740.2,"mag":13.90,"s":"V"},
{"jd":2453740.2,"mag":14.10,"s":"V"},
{"jd":2453740.2,"mag":14.30,"s":"V"},
{"jd":2453740.2,"mag":14.50,"s":"V"},
{"jd":2453740.2,"mag":14.70,"s":"V"},
{"jd":2453741.3,"mag":14.00,"s":"V"},
{"jd":2453741.3,"mag":14.20,"s":"V"},
{"jd":2453741.3,"mag":14.40,"s":"V"},
{"jd":2453741.3,"mag":14.60,"s":"V"},
{"jd":2453741.3,"mag":14.78,"s":"V"},
{"jd":2453742.5,"mag":13.90,"s":"V"},
{"jd":2453742.5,"mag":14.10,"s":"V"},
{"jd":2453742.5,"mag":14.30,"s":"V"},
{"jd":2453742.5,"mag":14.50,"s":"V"},
{"jd":2453742.5,"mag":14.70,"s":"V"},
{"jd":2453742.5,"mag":14.85,"s":"V"},
{"jd":2453743.6,"mag":14.00,"s":"V"},
{"jd":2453743.6,"mag":14.20,"s":"V"},
{"jd":2453743.6,"mag":14.40,"s":"V"},
{"jd":2453743.6,"mag":14.60,"s":"V"},
{"jd":2453744.8,"mag":14.00,"s":"V"},
{"jd":2453744.8,"mag":14.20,"s":"V"},
{"jd":2453744.8,"mag":14.45,"s":"V"},
{"jd":2453744.8,"mag":14.65,"s":"V"},
{"jd":2453746.0,"mag":14.10,"s":"V"},
{"jd":2453746.0,"mag":14.40,"s":"V"},
{"jd":2453746.0,"mag":14.65,"s":"V"},
{"jd":2453747.0,"mag":13.95,"s":"V"},
{"jd":2453747.0,"mag":14.30,"s":"V"},
{"jd":2453747.0,"mag":14.55,"s":"V"},
{"jd":2453747.0,"mag":14.75,"s":"V"},
{"jd":2453751.0,"mag":14.00,"s":"V"},
{"jd":2453751.0,"mag":14.20,"s":"V"},
{"jd":2453751.0,"mag":14.40,"s":"V"},
{"jd":2453751.0,"mag":14.60,"s":"V"},
{"jd":2453751.0,"mag":14.80,"s":"V"},
{"jd":2453752.1,"mag":14.10,"s":"V"},
{"jd":2453752.1,"mag":14.30,"s":"V"},
{"jd":2453752.1,"mag":14.50,"s":"V"},
{"jd":2453752.1,"mag":14.70,"s":"V"},
{"jd":2453753.3,"mag":13.90,"s":"V"},
{"jd":2453753.3,"mag":14.10,"s":"V"},
{"jd":2453753.3,"mag":14.30,"s":"V"},
{"jd":2453753.3,"mag":14.50,"s":"V"},
{"jd":2453753.3,"mag":14.70,"s":"V"},
{"jd":2453754.4,"mag":14.00,"s":"V"},
{"jd":2453754.4,"mag":14.20,"s":"V"},
{"jd":2453754.4,"mag":14.40,"s":"V"},
{"jd":2453754.4,"mag":14.60,"s":"V"},
{"jd":2453755.6,"mag":13.85,"s":"V"},
{"jd":2453755.6,"mag":14.05,"s":"V"},
{"jd":2453755.6,"mag":14.25,"s":"V"},
{"jd":2453755.6,"mag":14.45,"s":"V"},
{"jd":2453755.6,"mag":14.65,"s":"V"},
{"jd":2453756.7,"mag":13.95,"s":"V"},
{"jd":2453756.7,"mag":14.15,"s":"V"},
{"jd":2453756.7,"mag":14.35,"s":"V"},
{"jd":2453756.7,"mag":14.55,"s":"V"},
{"jd":2453756.7,"mag":14.70,"s":"V"},
{"jd":2453757.8,"mag":13.95,"s":"V"},
{"jd":2453757.8,"mag":14.15,"s":"V"},
{"jd":2453757.8,"mag":14.35,"s":"V"},
{"jd":2453757.8,"mag":14.55,"s":"V"},
{"jd":2453757.8,"mag":14.75,"s":"V"},
{"jd":2453758.7,"mag":14.05,"s":"V"},
{"jd":2453758.7,"mag":14.25,"s":"V"},
{"jd":2453758.7,"mag":14.45,"s":"V"},
{"jd":2453758.7,"mag":14.65,"s":"V"},
{"jd":2453759.5,"mag":14.10,"s":"V"},
{"jd":2453759.5,"mag":14.30,"s":"V"},
{"jd":2453761.5,"mag":14.00,"s":"V"},
{"jd":2453761.5,"mag":14.20,"s":"V"},
{"jd":2453761.5,"mag":14.40,"s":"V"},
{"jd":2453761.5,"mag":14.60,"s":"V"},
{"jd":2453761.5,"mag":14.80,"s":"V"},
{"jd":2453761.5,"mag":14.95,"s":"V"},
{"jd":2453762.5,"mag":14.05,"s":"V"},
{"jd":2453762.5,"mag":14.25,"s":"V"},
{"jd":2453762.5,"mag":14.45,"s":"V"},
{"jd":2453762.5,"mag":14.65,"s":"V"},
{"jd":2453762.5,"mag":14.85,"s":"V"},
{"jd":2453762.5,"mag":15.00,"s":"V"},
{"jd":2453763.5,"mag":13.90,"s":"V"},
{"jd":2453763.5,"mag":14.10,"s":"V"},
{"jd":2453763.5,"mag":14.30,"s":"V"},
{"jd":2453763.5,"mag":14.50,"s":"V"},
{"jd":2453763.5,"mag":14.70,"s":"V"},
{"jd":2453763.5,"mag":14.90,"s":"V"},
{"jd":2453763.5,"mag":15.05,"s":"V"},
{"jd":2453764.3,"mag":14.00,"s":"V"},
{"jd":2453764.3,"mag":14.20,"s":"V"},
{"jd":2453764.3,"mag":14.40,"s":"V"},
{"jd":2453764.3,"mag":14.60,"s":"V"},
{"jd":2453764.3,"mag":14.80,"s":"V"},
{"jd":2453764.3,"mag":14.98,"s":"V"},
{"jd":2453765.0,"mag":14.10,"s":"V"},
{"jd":2453765.0,"mag":14.35,"s":"V"},
{"jd":2453765.0,"mag":14.60,"s":"V"},
{"jd":2453765.0,"mag":14.85,"s":"V"},
{"jd":2453765.0,"mag":15.05,"s":"V"},
{"jd":2453766.8,"mag":13.30,"s":"V"},
{"jd":2453766.8,"mag":13.45,"s":"V"},
{"jd":2453766.8,"mag":13.60,"s":"V"},
{"jd":2453766.8,"mag":13.75,"s":"V"},
{"jd":2453766.8,"mag":13.90,"s":"V"},
{"jd":2453766.8,"mag":14.05,"s":"V"},
{"jd":2453766.8,"mag":14.20,"s":"V"},
{"jd":2453766.8,"mag":14.35,"s":"V"},
{"jd":2453766.8,"mag":14.50,"s":"V"},
{"jd":2453766.8,"mag":14.65,"s":"V"},
{"jd":2453766.8,"mag":14.80,"s":"V"},
{"jd":2453766.8,"mag":14.95,"s":"V"},
{"jd":2453768.3,"mag":9.92,"s":"V"},
{"jd":2453768.8,"mag":9.75,"s":"V"},
{"jd":2453769.5,"mag":9.85,"s":"V"},
{"jd":2453769.5,"mag":10.10,"s":"V"},
{"jd":2453768.3,"mag":10.19,"s":"V"},
{"jd":2453770.2,"mag":10.00,"s":"V"},
{"jd":2453770.5,"mag":10.15,"s":"V"},
{"jd":2453771.2,"mag":10.28,"s":"V"},
{"jd":2453771.8,"mag":10.68,"s":"V"},
{"jd":2453772.4,"mag":10.86,"s":"V"},
{"jd":2453772.4,"mag":11.00,"s":"V"},
{"jd":2453772.4,"mag":11.18,"s":"V"},
{"jd":2453772.1,"mag":11.36,"s":"V"},
{"jd":2453772.7,"mag":11.54,"s":"V"},
{"jd":2453772.7,"mag":11.66,"s":"V"},
{"jd":2453772.7,"mag":11.78,"s":"V"},
{"jd":2453772.7,"mag":11.90,"s":"V"},
{"jd":2453773.6,"mag":12.44,"s":"V"},
{"jd":2453773.6,"mag":12.57,"s":"V"},
{"jd":2453773.6,"mag":12.70,"s":"V"},
{"jd":2453773.6,"mag":12.84,"s":"V"},
{"jd":2453774.2,"mag":13.45,"s":"V"},
{"jd":2453774.2,"mag":13.69,"s":"V"},
{"jd":2453775.6,"mag":14.28,"s":"V"},
{"jd":2453778.5,"mag":14.20,"s":"V"},
{"jd":2453778.5,"mag":14.40,"s":"V"},
{"jd":2453778.5,"mag":14.60,"s":"V"},
{"jd":2453778.5,"mag":14.75,"s":"V"},
{"jd":2453779.5,"mag":14.30,"s":"V"},
{"jd":2453779.5,"mag":14.50,"s":"V"},
{"jd":2453779.5,"mag":14.70,"s":"V"},
{"jd":2453779.5,"mag":14.90,"s":"V"},
{"jd":2453780.5,"mag":14.05,"s":"V"},
{"jd":2453780.5,"mag":14.25,"s":"V"},
{"jd":2453780.5,"mag":14.45,"s":"V"},
{"jd":2453780.5,"mag":14.65,"s":"V"},
{"jd":2453780.5,"mag":14.85,"s":"V"},
{"jd":2453781.5,"mag":14.15,"s":"V"},
{"jd":2453781.5,"mag":14.35,"s":"V"},
{"jd":2453781.5,"mag":14.55,"s":"V"},
{"jd":2453781.5,"mag":14.75,"s":"V"},
{"jd":2453781.5,"mag":14.95,"s":"V"},
{"jd":2453782.5,"mag":14.10,"s":"V"},
{"jd":2453782.5,"mag":14.30,"s":"V"},
{"jd":2453782.5,"mag":14.50,"s":"V"},
{"jd":2453782.5,"mag":14.70,"s":"V"},
{"jd":2453782.5,"mag":14.90,"s":"V"},
{"jd":2453782.5,"mag":15.11,"s":"V"},
{"jd":2453783.5,"mag":14.20,"s":"V"},
{"jd":2453783.5,"mag":14.40,"s":"V"},
{"jd":2453783.5,"mag":14.60,"s":"V"},
{"jd":2453783.5,"mag":14.80,"s":"V"},
{"jd":2453783.5,"mag":15.00,"s":"V"},
{"jd":2453784.5,"mag":14.05,"s":"V"},
{"jd":2453784.5,"mag":14.25,"s":"V"},
{"jd":2453784.5,"mag":14.45,"s":"V"},
{"jd":2453784.5,"mag":14.65,"s":"V"},
{"jd":2453784.5,"mag":14.85,"s":"V"},
{"jd":2453784.5,"mag":15.00,"s":"V"},
{"jd":2453785.5,"mag":14.10,"s":"V"},
{"jd":2453785.5,"mag":14.30,"s":"V"},
{"jd":2453785.5,"mag":14.50,"s":"V"},
{"jd":2453785.5,"mag":14.70,"s":"V"},
{"jd":2453785.5,"mag":14.90,"s":"V"},
{"jd":2453785.5,"mag":15.05,"s":"V"},
{"jd":2453786.5,"mag":13.78,"s":"V"},
{"jd":2453786.5,"mag":14.00,"s":"V"},
{"jd":2453786.5,"mag":14.20,"s":"V"},
{"jd":2453786.5,"mag":14.40,"s":"V"},
{"jd":2453786.5,"mag":14.60,"s":"V"},
{"jd":2453786.5,"mag":14.80,"s":"V"},
{"jd":2453786.5,"mag":15.00,"s":"V"},
{"jd":2453787.5,"mag":14.05,"s":"V"},
{"jd":2453787.5,"mag":14.25,"s":"V"},
{"jd":2453787.5,"mag":14.45,"s":"V"},
{"jd":2453787.5,"mag":14.65,"s":"V"},
{"jd":2453787.5,"mag":14.85,"s":"V"},
{"jd":2453787.5,"mag":15.05,"s":"V"},
{"jd":2453787.6,"mag":15.22,"s":"V"},
{"jd":2453788.5,"mag":14.10,"s":"V"},
{"jd":2453788.5,"mag":14.30,"s":"V"},
{"jd":2453788.5,"mag":14.50,"s":"V"},
{"jd":2453788.5,"mag":14.70,"s":"V"},
{"jd":2453788.5,"mag":14.90,"s":"V"},
{"jd":2453789.5,"mag":14.20,"s":"V"},
{"jd":2453789.5,"mag":14.40,"s":"V"},
{"jd":2453789.5,"mag":14.60,"s":"V"},
{"jd":2453789.5,"mag":14.80,"s":"V"},
{"jd":2453789.5,"mag":14.95,"s":"V"},
{"jd":2453790.5,"mag":14.09,"s":"V"},
{"jd":2453790.5,"mag":14.40,"s":"V"},
{"jd":2453790.5,"mag":14.60,"s":"V"},
{"jd":2453790.5,"mag":14.80,"s":"V"},
{"jd":2453790.5,"mag":15.00,"s":"V"},
{"jd":2453791.5,"mag":14.30,"s":"V"},
{"jd":2453791.5,"mag":14.50,"s":"V"},
{"jd":2453791.5,"mag":14.70,"s":"V"},
{"jd":2453791.5,"mag":14.90,"s":"V"},
{"jd":2453792.5,"mag":14.30,"s":"V"},
{"jd":2453792.5,"mag":14.55,"s":"V"},
{"jd":2453792.5,"mag":14.80,"s":"V"},
{"jd":2453794.5,"mag":14.40,"s":"V"},
{"jd":2453794.5,"mag":14.70,"s":"V"},
{"jd":2453794.5,"mag":14.95,"s":"V"},
{"jd":2453797.0,"mag":14.50,"s":"V"},
{"jd":2453797.0,"mag":14.75,"s":"V"},
{"jd":2453800.5,"mag":13.99,"s":"V"},
{"jd":2453800.5,"mag":15.04,"s":"V"},
{"jd":2453802.3,"mag":13.96,"s":"V"},
{"jd":2453802.3,"mag":14.20,"s":"V"},
{"jd":2453806.3,"mag":14.07,"s":"V"},
{"jd":2453808.6,"mag":14.14,"s":"V"},
{"jd":2453809.3,"mag":14.48,"s":"V"},
{"jd":2453810.0,"mag":14.20,"s":"V"},
{"jd":2453812.0,"mag":14.55,"s":"V"},
{"jd":2453813.5,"mag":14.05,"s":"V"},
{"jd":2453815.3,"mag":14.69,"s":"V"},
{"jd":2453815.7,"mag":13.93,"s":"V"},
{"jd":2453816.3,"mag":14.62,"s":"V"},
{"jd":2453818.0,"mag":14.40,"s":"V"},
{"jd":2453819.8,"mag":14.56,"s":"V"},
{"jd":2453820.4,"mag":14.11,"s":"V"},
{"jd":2453823.9,"mag":14.71,"s":"V"},
{"jd":2453824.0,"mag":14.30,"s":"V"},
{"jd":2453824.0,"mag":14.50,"s":"V"},
{"jd":2453825.0,"mag":14.85,"s":"V"},
{"jd":2453826.9,"mag":14.75,"s":"V"},
{"jd":2453827.7,"mag":14.41,"s":"V"},
{"jd":2453828.0,"mag":14.20,"s":"V"},
{"jd":2453830.0,"mag":14.55,"s":"V"},
{"jd":2453832.0,"mag":14.30,"s":"V"},
{"jd":2453832.7,"mag":14.62,"s":"V"},
{"jd":2453834.5,"mag":14.45,"s":"V"},
{"jd":2453835.5,"mag":14.40,"s":"V"},
{"jd":2453837.0,"mag":14.50,"s":"V"},
{"jd":2453838.0,"mag":14.60,"s":"V"},
{"jd":2453839.2,"mag":13.98,"s":"V"},
{"jd":2453839.5,"mag":13.78,"s":"V"},
{"jd":2453841.0,"mag":14.15,"s":"V"},
{"jd":2453843.3,"mag":14.56,"s":"V"},
{"jd":2453844.5,"mag":14.25,"s":"V"},
{"jd":2453846.2,"mag":14.49,"s":"V"},
{"jd":2453847.5,"mag":14.05,"s":"V"},
{"jd":2453849.1,"mag":14.15,"s":"V"},
{"jd":2453850.9,"mag":14.62,"s":"V"},
{"jd":2453852.6,"mag":15.12,"s":"V"},
{"jd":2453853.8,"mag":14.15,"s":"V"},
{"jd":2453855.0,"mag":14.67,"s":"V"},
{"jd":2453856.5,"mag":14.45,"s":"V"},
{"jd":2453857.3,"mag":14.62,"s":"V"},
{"jd":2453859.7,"mag":14.80,"s":"V"},
{"jd":2453861.4,"mag":14.02,"s":"V"},
{"jd":2453862.6,"mag":14.49,"s":"V"},
{"jd":2453864.4,"mag":13.91,"s":"V"},
{"jd":2453865.5,"mag":14.65,"s":"V"},
{"jd":2453867.0,"mag":14.35,"s":"V"},
{"jd":2453868.5,"mag":14.45,"s":"V"},
{"jd":2453869.6,"mag":13.93,"s":"V"},
{"jd":2453874.6,"mag":14.19,"s":"V"},
{"jd":2453876.7,"mag":14.39,"s":"V"},
{"jd":2453880.5,"mag":14.26,"s":"V"},
{"jd":2453882.0,"mag":13.80,"s":"V"},
{"jd":2453883.7,"mag":14.62,"s":"V"},
{"jd":2453885.4,"mag":14.08,"s":"V"}
    ]
  },
  "layer": [
    {
      "data": {"name": "pts"},
      "mark": {"type": "point", "filled": true, "size": 440, "strokeWidth": 1.5, "opacity": 1},
      "encoding": {
        "x": {"field": "jd", "type": "quantitative", "scale": {"domain": [2453600, 2453900], "nice": false, "zero": false},
          "axis": {"orient": "bottom", "values": [2453625, 2453700, 2453775, 2453850], "format": "d", "tickSize": -15, "labelPadding": 36, "labelFontSize": 39, "title": "Julian Date", "titleFontSize": 38, "titlePadding": 15}},
        "y": {"field": "mag", "type": "quantitative", "scale": {"domain": [8, 16], "reverse": true, "nice": false, "zero": false},
          "axis": {"orient": "left", "values": [8, 9, 10, 11, 12, 13, 14, 15, 16], "tickSize": -19, "labelPadding": 41, "labelFontSize": 40, "title": "Mag", "titleFontSize": 38, "titlePadding": 48}},
        "fill": {"field": "s", "type": "nominal", "scale": {"domain": ["Visual Validated", "V"], "range": ["#1c0505", "#1ec3ef"]},
          "legend": {"title": null, "orient": "none", "legendX": 1670, "legendY": -107, "labelFontSize": 37, "labelFont": "Liberation Sans", "labelFontWeight": "bold", "labelColor": "#231818", "labelAlign": "right", "labelOffset": -99, "labelLimit": 0, "symbolSize": 260, "rowPadding": 20}},
        "shape": {"field": "s", "type": "nominal", "scale": {"domain": ["Visual Validated", "V"], "range": ["M-1.26,0L0,-0.9L1.26,0L0,0.9Z", "circle"]},
          "legend": {"title": null, "orient": "none", "legendX": 1670, "legendY": -107, "labelFontSize": 37, "labelFont": "Liberation Sans", "labelFontWeight": "bold", "labelColor": "#231818", "labelAlign": "right", "labelOffset": -99, "labelLimit": 0, "symbolSize": 260, "rowPadding": 20}},
        "stroke": {"field": "s", "type": "nominal", "scale": {"domain": ["Visual Validated", "V"], "range": ["#4b1208", "#8d8d8d"]},
          "legend": {"title": null, "orient": "none", "legendX": 1670, "legendY": -107, "labelFontSize": 37, "labelFont": "Liberation Sans", "labelFontWeight": "bold", "labelColor": "#231818", "labelAlign": "right", "labelOffset": -99, "labelLimit": 0, "symbolSize": 260, "rowPadding": 20}}
      }
    },
    {
      "data": {"name": "none"},
      "mark": {"type": "point"},
      "encoding": {
        "x": {"field": "jd", "type": "quantitative", "scale": {"domain": [2453600, 2453900], "nice": false, "zero": false},
          "axis": {"orient": "top", "values": [2453625, 2453700, 2453775, 2453850], "tickSize": -15, "labels": false, "title": null}},
        "y": {"field": "mag", "type": "quantitative", "scale": {"domain": [8, 16], "reverse": true, "nice": false, "zero": false},
          "axis": {"orient": "right", "values": [9, 10, 11, 12, 13, 14, 15], "tickSize": -19, "labels": false, "title": null}}
      }
    },
    {
      "data": {"name": "none"},
      "mark": {"type": "point"},
      "encoding": {
        "x": {"field": "jd", "type": "quantitative", "scale": {"domain": [2453600, 2453900], "nice": false, "zero": false},
          "axis": {"orient": "bottom", "values": [2453610, 2453640, 2453655, 2453670, 2453685, 2453715, 2453730, 2453745, 2453760, 2453790, 2453805, 2453820, 2453835, 2453865, 2453880, 2453895], "tickSize": -9, "labels": false, "title": null}},
        "y": {"field": "mag", "type": "quantitative", "scale": {"domain": [8, 16], "reverse": true, "nice": false, "zero": false}, "axis": null}
      }
    },
    {
      "data": {"name": "none"},
      "mark": {"type": "point"},
      "encoding": {
        "x": {"field": "jd", "type": "quantitative", "scale": {"domain": [2453600, 2453900], "nice": false, "zero": false},
          "axis": {"orient": "top", "values": [2453610, 2453640, 2453655, 2453670, 2453685, 2453715, 2453730, 2453745, 2453760, 2453790, 2453805, 2453820, 2453835, 2453865, 2453880, 2453895], "tickSize": -9, "labels": false, "title": null}},
        "y": {"field": "mag", "type": "quantitative", "scale": {"domain": [8, 16], "reverse": true, "nice": false, "zero": false}, "axis": null}
      }
    }
  ],
  "resolve": {"axis": {"x": "independent", "y": "independent"}}
}
